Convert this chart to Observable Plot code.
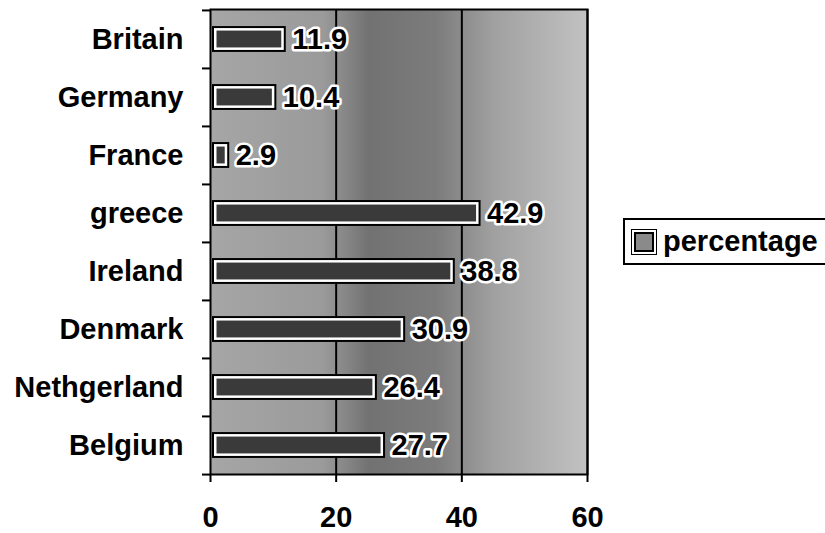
<!DOCTYPE html>
<html><head><meta charset="utf-8">
<script src="https://cdn.jsdelivr.net/npm/d3@7"></script>
<script src="https://cdn.jsdelivr.net/npm/@observablehq/plot@0.6"></script>
<style>
body{margin:0;background:#fff;font-family:"Liberation Sans",Arial,sans-serif;}
#wrap{position:relative;width:825px;height:533px;overflow:hidden;}
#legend{position:absolute;left:623px;top:218px;width:215px;height:47px;border:2px solid #000;box-sizing:border-box;background:#fff;display:flex;align-items:center;font-weight:bold;font-size:29px;color:#000;}
#legend .sw{width:16px;height:16px;border:2px solid #000;outline:2px solid #fff;background:#8a8a8a;margin-left:9px;margin-right:9px;box-shadow:0 0 0 3px #000;}
</style>
</head><body>
<div id="wrap"><div id="chart"></div><div id="legend"><span class="sw"></span><span id="legtext"></span></div></div>
<script>
const categories = ["Britain","Germany","France","greece","Ireland","Denmark","Nethgerland","Belgium"];
const values = [11.9,10.4,2.9,42.9,38.8,30.9,26.4,27.7];
const xTicks = [0,20,40,60];
const seriesName = "percentage";
const data = categories.map((c,i)=>({country:c, value:values[i]}));

const mTop=9, mBottom=59, H=533;
const step=(H-mTop-mBottom)/categories.length;
const inset=(step-24)/2;
const font='"Liberation Sans",Arial,sans-serif';

const chart = Plot.plot({
  width:825, height:H,
  marginLeft:210, marginRight:238, marginTop:mTop, marginBottom:mBottom,
  style:{fontFamily:font, fontSize:"29px", fontWeight:"bold", color:"#000", background:"transparent", overflow:"visible"},
  x:{domain:[0,60], ticks:xTicks},
  y:{domain:categories, padding:0},
  marks:[
    Plot.frame({fill:"url(#bggrad)", stroke:"none"}),
    Plot.ruleX([20,40,60], {stroke:"#000", strokeWidth:2}),
    Plot.barX(data, {x:"value", y:"country", insetTop:inset, insetBottom:inset, insetLeft:3, fill:"#fff", stroke:"#000", strokeWidth:2}),
    Plot.barX(data, {x:"value", y:"country", insetTop:inset+3.5, insetBottom:inset+3.5, insetLeft:6.5, insetRight:3.5, fill:"#3a3a3a"}),
    Plot.text(data, {x:"value", y:"country", text:d=>d.value.toFixed(1), dx:7, textAnchor:"start", fontSize:29, fontWeight:"bold", fill:"#000", stroke:"#fff", strokeWidth:5}),
    Plot.frame({stroke:"#000", strokeWidth:2}),
    Plot.axisY({tickSize:8, tickFormat:()=>"", dy:-step/2, label:null, strokeWidth:2}),
    Plot.axisY([categories[categories.length-1]], {tickSize:8, tickFormat:()=>"", dy:step/2, label:null, strokeWidth:2}),
    Plot.axisY({tickSize:0, tickPadding:27, fontSize:29, fontWeight:"bold", label:null}),
    Plot.axisX(xTicks, {tickSize:8, tickPadding:24, fontSize:29, fontWeight:"bold", label:null, strokeWidth:2})
  ]
});

const ns="http://www.w3.org/2000/svg";
const defs=document.createElementNS(ns,"defs");
defs.innerHTML=`<linearGradient id="bggrad" x1="0" y1="0" x2="1" y2="0">
<stop offset="0" stop-color="#a6a6a6"/><stop offset="0.3" stop-color="#9a9a9a"/>
<stop offset="0.42" stop-color="#727272"/><stop offset="0.6" stop-color="#7c7c7c"/>
<stop offset="0.75" stop-color="#a0a0a0"/><stop offset="1" stop-color="#c2c2c2"/></linearGradient>`;
chart.insertBefore(defs, chart.firstChild);
document.getElementById("chart").appendChild(chart);
document.getElementById("legtext").textContent=seriesName;
</script>
</body></html>
